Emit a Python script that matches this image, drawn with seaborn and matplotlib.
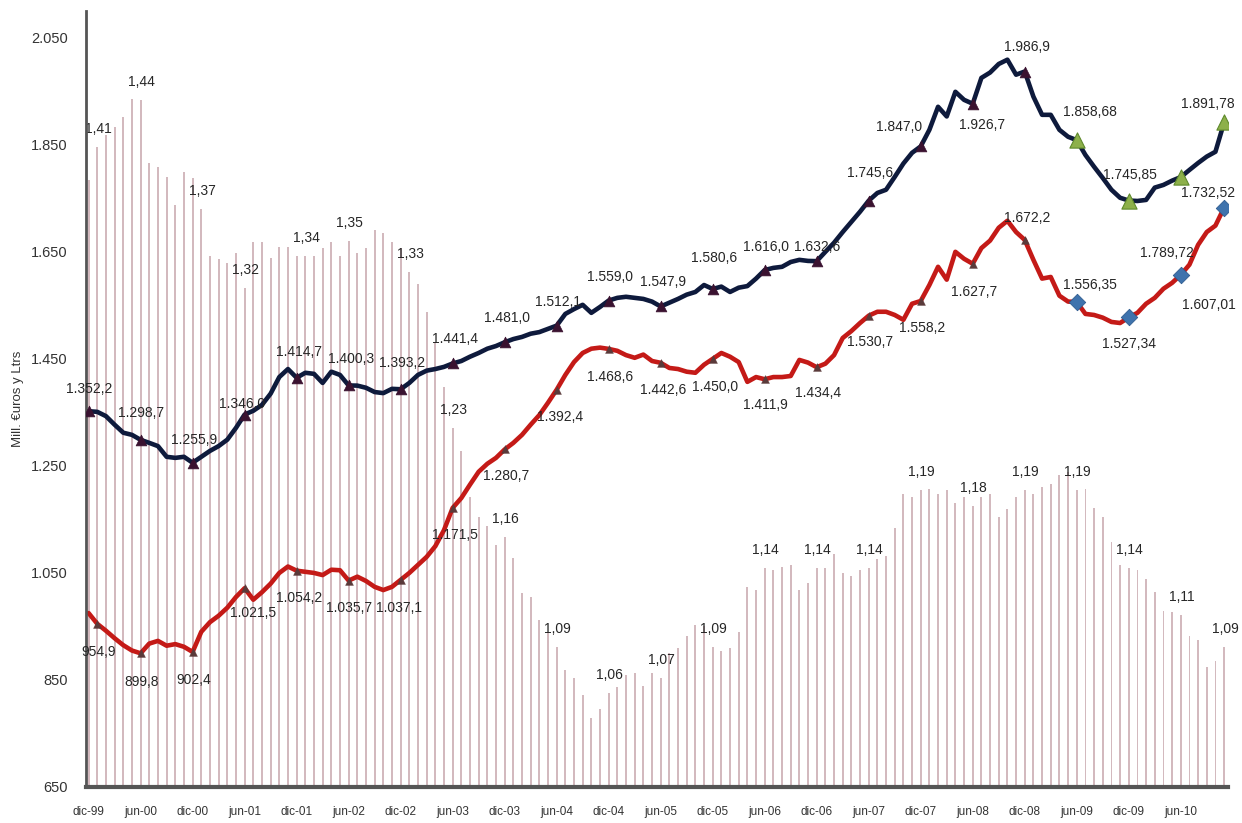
import numpy as np
import pandas as pd
import matplotlib
matplotlib.use("Agg")
import matplotlib.pyplot as plt
import seaborn as sns

# ---------------------------------------------------------------- data
meses = pd.period_range("1999-12", "2010-11", freq="M")

etiquetas_x = ["dic-99", "jun-00", "dic-00", "jun-01", "dic-01", "jun-02",
               "dic-02", "jun-03", "dic-03", "jun-04", "dic-04", "jun-05",
               "dic-05", "jun-06", "dic-06", "jun-07", "dic-07", "jun-08",
               "dic-08", "jun-09", "dic-09", "jun-10"]

ticks_y = [650, 850, 1050, 1250, 1450, 1650, 1850, 2050]

# millones de euros (línea azul)
euros = [1352.2, 1351, 1343, 1327, 1312, 1308, 1298.7, 1293, 1287, 1267, 1265, 1267,
         1255.9, 1267, 1278, 1287, 1299, 1321, 1346.0, 1353, 1364, 1385, 1416, 1431,
         1414.7, 1424, 1422, 1405, 1426, 1420, 1400.3, 1400, 1396, 1388, 1386, 1394,
         1393.2, 1405, 1420, 1428, 1431, 1435, 1441.4, 1446, 1454, 1461, 1469, 1474,
         1481.0, 1487, 1491, 1497, 1500, 1506, 1512.1, 1534, 1543, 1551, 1536, 1547,
         1559.0, 1564, 1566, 1564, 1562, 1557, 1547.9, 1555, 1562, 1570, 1575, 1588,
         1580.6, 1585, 1575, 1583, 1586, 1600, 1616.0, 1620, 1622, 1631, 1635, 1633,
         1632.6, 1650, 1667, 1687, 1706, 1725, 1745.6, 1760, 1766, 1790, 1815, 1835,
         1847.0, 1878, 1921, 1903, 1949, 1934, 1926.7, 1975, 1985, 2001, 2009, 1981,
         1986.9, 1940, 1906, 1906, 1878, 1865, 1858.68, 1831, 1809, 1788, 1766, 1751,
         1745.85, 1745, 1747, 1770, 1775, 1783, 1789.72, 1803, 1816, 1828, 1837, 1891.78]

# millones de litros (línea roja)
litros = [975, 954.9, 942, 928, 915, 905, 899.8, 918, 923, 914, 917, 912,
          902.4, 940, 958, 970, 985, 1005, 1021.5, 1000, 1014, 1030, 1050, 1062,
          1054.2, 1052, 1050, 1046, 1056, 1055, 1035.7, 1043, 1035, 1024, 1018, 1024,
          1037.1, 1050, 1065, 1080, 1100, 1130, 1171.5, 1190, 1215, 1239, 1254, 1265,
          1280.7, 1293, 1308, 1327, 1345, 1368, 1392.4, 1420, 1444, 1461, 1469, 1471,
          1468.6, 1465, 1457, 1452, 1458, 1446, 1442.6, 1433, 1431, 1426, 1424, 1439,
          1450.0, 1461, 1454, 1444, 1407, 1416, 1411.9, 1416, 1416, 1418, 1448, 1443,
          1434.4, 1441, 1457, 1489, 1502, 1517, 1530.7, 1538, 1538, 1532, 1523, 1553,
          1558.2, 1588, 1622, 1598, 1650, 1637, 1627.7, 1657, 1671, 1695, 1708, 1687,
          1672.2, 1635, 1600, 1603, 1568, 1557, 1556.35, 1534, 1532, 1527, 1519, 1517,
          1527.34, 1536, 1553, 1564, 1581, 1592, 1607.01, 1626, 1663, 1687, 1699, 1732.52]

# euros por litro (barras)
precio = [1.389, 1.41, 1.418, 1.423, 1.429, 1.441, 1.44, 1.40, 1.397, 1.391, 1.373, 1.394,
          1.39, 1.37, 1.34, 1.338, 1.336, 1.342, 1.32, 1.349, 1.349, 1.339, 1.346, 1.346,
          1.34, 1.34, 1.34, 1.345, 1.349, 1.34, 1.35, 1.342, 1.345, 1.357, 1.355, 1.349,
          1.345, 1.33, 1.322, 1.304, 1.285, 1.256, 1.23, 1.215, 1.186, 1.173, 1.167, 1.155,
          1.16, 1.147, 1.124, 1.122, 1.107, 1.099, 1.09, 1.075, 1.07, 1.059, 1.044, 1.05,
          1.06, 1.064, 1.072, 1.073, 1.065, 1.073, 1.07, 1.086, 1.089, 1.097, 1.104, 1.103,
          1.09, 1.087, 1.089, 1.099, 1.128, 1.126, 1.14, 1.139, 1.141, 1.142, 1.126, 1.131,
          1.14, 1.14, 1.149, 1.137, 1.135, 1.139, 1.14, 1.146, 1.148, 1.166, 1.188, 1.186,
          1.19, 1.191, 1.188, 1.19, 1.182, 1.186, 1.18, 1.186, 1.188, 1.173, 1.178, 1.186,
          1.19, 1.188, 1.192, 1.194, 1.20, 1.202, 1.19, 1.191, 1.179, 1.173, 1.157, 1.142,
          1.14, 1.139, 1.133, 1.125, 1.113, 1.112, 1.11, 1.097, 1.094, 1.077, 1.081, 1.09]

# meses señalados en cada serie
marcas_euros = list(range(0, 109, 6))
marcas_euros_2009 = [114, 120, 126, 131]
marcas_litros = [1] + list(range(6, 109, 6))
marcas_litros_2009 = [114, 120, 126, 131]
marcas_precio = [1, 6, 13, 18, 25, 30, 37, 42, 48, 54, 60, 66, 72, 78, 84, 90,
                 96, 102, 108, 114, 120, 126, 131]

# ---------------------------------------------------------------- style
AZUL = "#0e1a3c"
ROJO = "#c41a17"
BARRA = "#d3b9be"
EJE = "#555555"
TEXTO = "#262626"

sns.set_theme(style="white")
plt.rcParams["font.family"] = ["Liberation Sans", "DejaVu Sans"]


def es_num(v, dec):
    s = f"{v:,.{dec}f}"
    return s.replace(",", "X").replace(".", ",").replace("X", ".")


x = np.arange(len(meses))
e = np.array(euros)
l = np.array(litros)
p = np.array(precio)

fig = plt.figure(figsize=(12.42, 8.23), dpi=100)
ax = fig.add_axes([86 / 1242, 1 - 787 / 823, (1228 - 86) / 1242, (787 - 11) / 823])
ax2 = ax.twinx()

# barras de precio en un eje secundario oculto
sns.barplot(x=x, y=p, ax=ax2, native_scale=True, width=0.21, color=BARRA,
            saturation=1, errorbar=None, linewidth=0, edgecolor="none")
ax2.set_ylim(1.0, 1.0 + (2100 - 650) / (1400 / 0.48))
ax2.axis("off")

ax.set_zorder(ax2.get_zorder() + 1)
ax.patch.set_visible(False)

# líneas
sns.lineplot(x=x, y=e, ax=ax, color=AZUL, linewidth=3.3, legend=False)
sns.lineplot(x=x, y=l, ax=ax, color=ROJO, linewidth=3.3, legend=False)

# marcadores
sns.scatterplot(x=x[marcas_euros], y=e[marcas_euros], ax=ax, marker="^", s=60,
                color="#3a1230", edgecolor="#3a1230", linewidth=0.5, zorder=5, legend=False)
sns.scatterplot(x=x[marcas_euros_2009], y=e[marcas_euros_2009], ax=ax, marker="^", s=120,
                color="#8db04a", edgecolor="#5f8a2c", linewidth=0.8, zorder=5, legend=False)
sns.scatterplot(x=x[marcas_litros], y=l[marcas_litros], ax=ax, marker="^", s=32,
                color="#5a3a3a", edgecolor="#5a3a3a", linewidth=0.3, zorder=5, legend=False)
sns.scatterplot(x=x[marcas_litros_2009], y=l[marcas_litros_2009], ax=ax, marker="D", s=70,
                color="#3f73ad", edgecolor="#2f5c90", linewidth=0.6, zorder=5, legend=False)

# desplazamientos de las etiquetas (pixeles)
desp_euros = {0: (1, 22), 6: (0, 27), 12: (1, 23), 18: (-3, 11), 24: (2, 26), 30: (2, 26),
              36: (1, 26), 42: (2, 24), 48: (2, 24), 54: (1, 24), 60: (1, 24), 66: (2, 24),
              72: (1, 31), 78: (1, 23), 84: (0, 14), 90: (1, 28), 96: (-22, 19),
              102: (9, -21), 108: (2, 25), 114: (13, 28), 120: (1, 26), 126: (-14, -76),
              131: (-16, 18)}
desp_litros = {1: (1, -28), 6: (1, -29), 12: (1, -28), 18: (8, -25), 24: (2, -27),
               30: (0, -27), 36: (-2, -28), 42: (2, -27), 48: (1, -27), 54: (3, -27),
               60: (1, -28), 66: (2, -27), 72: (2, -28), 78: (1, -26), 84: (1, -26),
               90: (1, -26), 96: (1, -27), 102: (1, -28), 108: (2, 22), 114: (13, 17),
               120: (0, -27), 126: (28, -30), 131: (-16, 15)}

for i, (dx, dy) in desp_euros.items():
    dec = 2 if i >= 114 else 1
    ax.annotate(es_num(e[i], dec), xy=(x[i], e[i]), xytext=(dx, dy),
                textcoords="offset pixels", ha="center", va="center",
                fontsize=10, color=TEXTO, zorder=6)
for i, (dx, dy) in desp_litros.items():
    dec = 2 if i >= 114 else 1
    ax.annotate(es_num(l[i], dec), xy=(x[i], l[i]), xytext=(dx, dy),
                textcoords="offset pixels", ha="center", va="center",
                fontsize=10, color=TEXTO, zorder=6)
for i in marcas_precio:
    ax2.annotate(es_num(p[i], 2), xy=(x[i], p[i]), xytext=(1, 18),
                 textcoords="offset pixels", ha="center", va="center",
                 fontsize=10, color=TEXTO)

# ejes
ax.set_xlim(-0.3, 131.45)
ax.set_ylim(650, 2100)
ax.set_xticks(x[::6])
ax.set_xticklabels(etiquetas_x, fontsize=8.5, color="#333333")
ax.set_yticks(ticks_y)
ax.set_yticklabels([es_num(v, 0) for v in ticks_y], fontsize=10.5, color="#333333")
ax.set_xlabel("")
ax.set_ylabel("Mill. €uros y Ltrs", fontsize=9.5, color="#333333")
ax.yaxis.set_label_coords(-0.054, 0.5)

ax.tick_params(axis="x", direction="out", length=3, width=1, color=EJE, pad=11)
ax.tick_params(axis="y", length=0, pad=13)
for lado in ("top", "right"):
    ax.spines[lado].set_visible(False)
ax.spines["left"].set_color(EJE)
ax.spines["left"].set_linewidth(2)
ax.spines["bottom"].set_color(EJE)
ax.spines["bottom"].set_linewidth(3)
ax.grid(False)

fig.savefig("out.png", dpi=100, facecolor="white")
